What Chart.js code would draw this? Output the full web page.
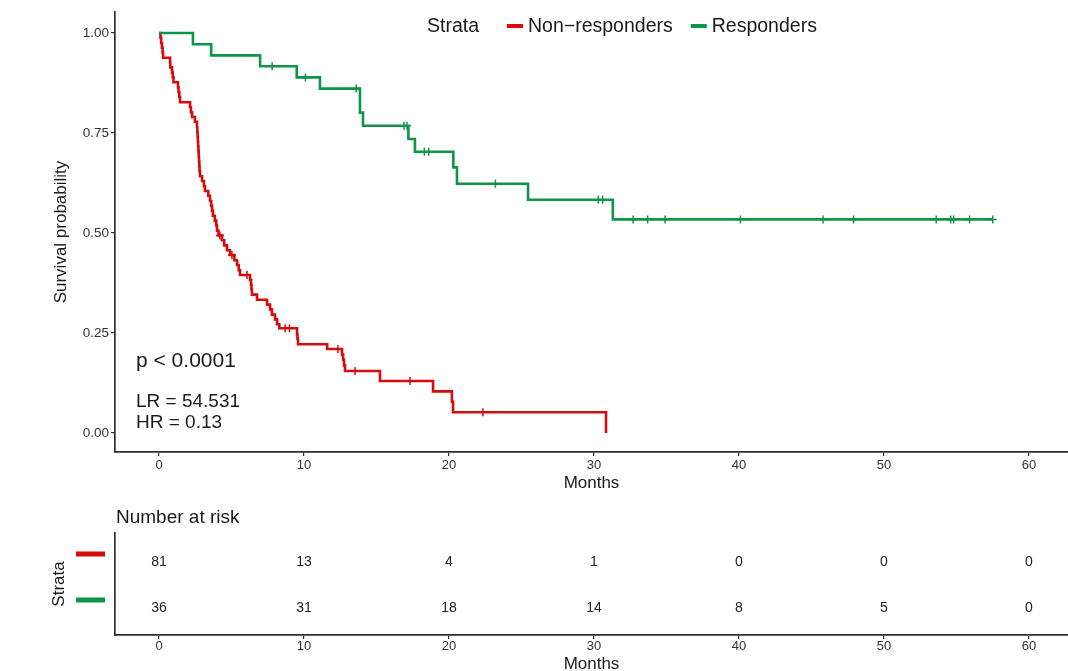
<!DOCTYPE html>
<html lang="en">
<head>
  <meta charset="UTF-8">
  <title>Survival by response</title>
  <script src="https://cdn.jsdelivr.net/npm/chart.js"></script>
  <style>
    body {
      margin: 0;
      background: #fff;
    }

    .wrap {
      position: relative;
      width: 1068px;
      height: 671px;
      overflow: hidden;
    }

    #km { position: absolute; left: 0; top: 0; }
    #risk { position: absolute; left: 0; top: 500px; }
  </style>
</head>
<body>

  <div class="wrap">
    <canvas id="km" width="1068" height="500"></canvas>
    <canvas id="risk" width="1068" height="171"></canvas>
  </div>

  <script>
    // ---- data ----
    const strata = ['Non\u2212responders', 'Responders'];

    const redTimes = [0, 0.1, 0.15, 0.2, 0.25, 0.28, 0.76, 0.78, 0.9, 0.95, 1.0, 1.31, 1.35, 1.4, 1.45,
      2.14, 2.2, 2.28, 2.48, 2.62, 2.64, 2.66, 2.68, 2.7, 2.72, 2.74, 2.76, 2.78, 2.8, 2.83,
      2.97, 3.1, 3.17, 3.4, 3.52, 3.6, 3.66, 3.72, 3.85, 3.95, 4.0, 4.1, 4.35, 4.5, 4.69, 4.9,
      5.2, 5.38, 5.5, 5.59, 6.28, 6.35, 6.38, 6.41, 6.76, 7.45, 7.66, 7.79, 8.0, 8.14, 8.3,
      9.52, 9.55, 9.59, 11.6, 12.62, 12.7, 12.76, 12.83, 15.24, 18.9, 20.2, 20.28, 30.83];
    const redSurv = [1, .988, .975, .963, .951, .938, .926, .914, .901, .889, .877, .864, .852, .840, .827,
      .815, .802, .790, .778, .765, .753, .741, .728, .716, .704, .691, .679, .667, .654, .642,
      .630, .617, .605, .593, .580, .568, .556, .543, .531, .519, .506, .494, .482, .469, .457, .445,
      .432, .420, .407, .395, .383, .370, .358, .346, .333, .321, .309, .296, .284, .272, .262,
      .247, .235, .222, .210, .196, .183, .169, .155, .130, .104, .078, .052, 0];
    const redCensorTimes = [4.2, 5.03, 6.07, 8.7, 9.0, 12.34, 13.52, 17.31, 22.34];
    const redCensorSurv = [.494, .445, .395, .262, .262, .210, .155, .130, .052];

    const greenTimes = [0, 2.34, 3.6, 6.97, 9.5, 11.1, 13.86, 14.07, 17.2, 17.65, 20.3, 20.55, 25.45, 31.3, 57.5];
    const greenSurv = [1, .972, .944, .917, .889, .861, .801, .768, .735, .703, .664, .623, .583, .534, .534];
    const greenCensorTimes = [7.8, 10.1, 13.6, 16.9, 17.1, 18.3, 18.6, 23.2, 30.3, 30.6, 32.7, 33.7, 34.9,
      40.1, 45.8, 47.9, 53.6, 54.6, 54.8, 55.9, 57.5];
    const greenCensorSurv = [.917, .889, .861, .768, .768, .703, .703, .623, .583, .583, .534, .534, .534,
      .534, .534, .534, .534, .534, .534, .534, .534];

    const riskTimes = [0, 10, 20, 30, 40, 50, 60];
    const riskRed = [81, 13, 4, 1, 0, 0, 0];
    const riskGreen = [36, 31, 18, 14, 8, 5, 0];

    const xTicks = [0, 10, 20, 30, 40, 50, 60];
    const yTicks = [0, 0.25, 0.5, 0.75, 1];

    const statLines = ['p < 0.0001', 'LR = 54.531', 'HR = 0.13'];

    // ---- styles ----
    const FONT = "'Liberation Sans', Arial, sans-serif";
    const RED = '#d40c0c';
    const GREEN = '#0e9548';
    const AXIS = '#2e2e2e';
    const INK = '#1a1a1a';

    Chart.defaults.font.family = FONT;
    Chart.defaults.color = '#333';

    const pts = (xs, ys) => xs.map((t, i) => ({ x: t, y: ys[i] }));

    function xAxis(height, tickPad, titlePad) {
      return {
        type: 'linear',
        min: -3.034,
        max: 62.69,
        afterBuildTicks: s => { s.ticks = xTicks.map(v => ({ value: v })); },
        afterFit: s => { s.height = height; s.paddingLeft = 0; s.paddingRight = 0; },
        border: { display: true, color: AXIS, width: 1.7 },
        grid: { drawOnChartArea: false, drawTicks: true, tickLength: 4, color: AXIS, lineWidth: 1.2 },
        ticks: { padding: tickPad, color: '#333', font: { size: 13 }, maxRotation: 0 },
        title: { display: true, text: 'Months', color: INK, font: { size: 17, lineHeight: 1 }, padding: { top: 0, bottom: titlePad } }
      };
    }

    // legend + test statistics
    const kmExtras = {
      id: 'kmExtras',
      afterDraw(chart) {
        const ctx = chart.ctx;
        ctx.save();
        ctx.fillStyle = INK;
        ctx.textAlign = 'left';
        ctx.textBaseline = 'middle';

        ctx.font = '21px ' + FONT;
        ctx.fillText(statLines[0], 136, 361);
        ctx.font = '19px ' + FONT;
        ctx.fillText(statLines[1], 136, 402);
        ctx.fillText(statLines[2], 136, 423);

        ctx.font = '19.5px ' + FONT;
        let lx = 427;
        ctx.fillText('Strata', lx, 27);
        lx += ctx.measureText('Strata').width + 28;
        [RED, GREEN].forEach((c, i) => {
          ctx.strokeStyle = c;
          ctx.lineWidth = 4;
          ctx.beginPath();
          ctx.moveTo(lx, 26);
          ctx.lineTo(lx + 16, 26);
          ctx.stroke();
          ctx.fillText(strata[i], lx + 21, 27);
          lx += 21 + ctx.measureText(strata[i]).width + 18;
        });
        ctx.restore();
      }
    };

    new Chart(document.getElementById('km'), {
      type: 'scatter',
      data: {
        datasets: [
          {
            label: strata[0], data: pts(redTimes, redSurv), showLine: true, stepped: 'before',
            borderColor: RED, borderWidth: 2.6, pointRadius: 0, fill: false, order: 3
          },
          {
            label: strata[0] + ' censored', data: pts(redCensorTimes, redCensorSurv), showLine: false,
            pointStyle: 'cross', pointRadius: 4, pointBorderWidth: 1.5, borderColor: RED, order: 2
          },
          {
            label: strata[1], data: pts(greenTimes, greenSurv), showLine: true, stepped: 'before',
            borderColor: GREEN, borderWidth: 2.6, pointRadius: 0, fill: false, order: 1
          },
          {
            label: strata[1] + ' censored', data: pts(greenCensorTimes, greenCensorSurv), showLine: false,
            pointStyle: 'cross', pointRadius: 4, pointBorderWidth: 1.5, borderColor: GREEN, order: 0
          }
        ]
      },
      options: {
        responsive: false,
        animation: false,
        events: [],
        layout: { autoPadding: false, padding: { left: 46, top: 12, right: 0, bottom: 0 } },
        plugins: { legend: { display: false }, tooltip: { enabled: false } },
        scales: {
          x: xAxis(48, 2, 8.5),
          y: {
            min: -0.0475,
            max: 1.0525,
            afterBuildTicks: s => { s.ticks = yTicks.map(v => ({ value: v })); },
            afterFit: s => { s.width = 69; s.paddingTop = 0; s.paddingBottom = 0; },
            border: { display: true, color: AXIS, width: 1.7 },
            grid: { drawOnChartArea: false, drawTicks: true, tickLength: 4, color: AXIS, lineWidth: 1.2 },
            ticks: { padding: 2, color: '#333', font: { size: 13.5 }, callback: v => Number(v).toFixed(2) },
            title: { display: true, text: 'Survival probability', color: INK, font: { size: 17, lineHeight: 1 }, padding: { top: 6.5, bottom: 0 } }
          }
        }
      },
      plugins: [kmExtras]
    });

    // risk table: numbers at each time point, coloured keys on the y axis
    const riskExtras = {
      id: 'riskExtras',
      afterDatasetsDraw(chart) {
        const ctx = chart.ctx;
        ctx.save();
        ctx.fillStyle = INK;
        ctx.textBaseline = 'middle';
        ctx.textAlign = 'left';
        ctx.font = '19px ' + FONT;
        ctx.fillText('Number at risk', 116, 18);

        ctx.textAlign = 'center';
        ctx.font = '14px ' + FONT;
        chart.data.datasets.forEach((ds, di) => {
          const meta = chart.getDatasetMeta(di);
          meta.data.forEach((el, i) => {
            ctx.fillStyle = '#222';
            ctx.fillText(String(ds.counts[i]), el.x, el.y);
          });
          const yy = chart.scales.y.getPixelForValue(ds.data[0].y) - 8;
          ctx.strokeStyle = ds.keyColor;
          ctx.lineWidth = 5;
          ctx.beginPath();
          ctx.moveTo(76, yy);
          ctx.lineTo(105, yy);
          ctx.stroke();
        });
        ctx.restore();
      }
    };

    new Chart(document.getElementById('risk'), {
      type: 'scatter',
      data: {
        datasets: [
          { label: strata[0], data: riskTimes.map(t => ({ x: t, y: 2 })), counts: riskRed, keyColor: RED, pointRadius: 0 },
          { label: strata[1], data: riskTimes.map(t => ({ x: t, y: 1 })), counts: riskGreen, keyColor: GREEN, pointRadius: 0 }
        ]
      },
      options: {
        responsive: false,
        animation: false,
        events: [],
        layout: { autoPadding: false, padding: { left: 46, top: 33, right: 0, bottom: 0 } },
        plugins: { legend: { display: false }, tooltip: { enabled: false } },
        scales: {
          x: xAxis(36, 0, -2),
          y: {
            min: 0.413,
            max: 2.63,
            afterFit: s => { s.width = 69; },
            border: { display: true, color: AXIS, width: 1.7 },
            grid: { display: false },
            ticks: { display: false },
            title: { display: true, text: 'Strata', color: INK, font: { size: 17, lineHeight: 1 }, padding: { top: 4.5, bottom: 0 } }
          }
        }
      },
      plugins: [riskExtras]
    });
  </script>

</body>
</html>
